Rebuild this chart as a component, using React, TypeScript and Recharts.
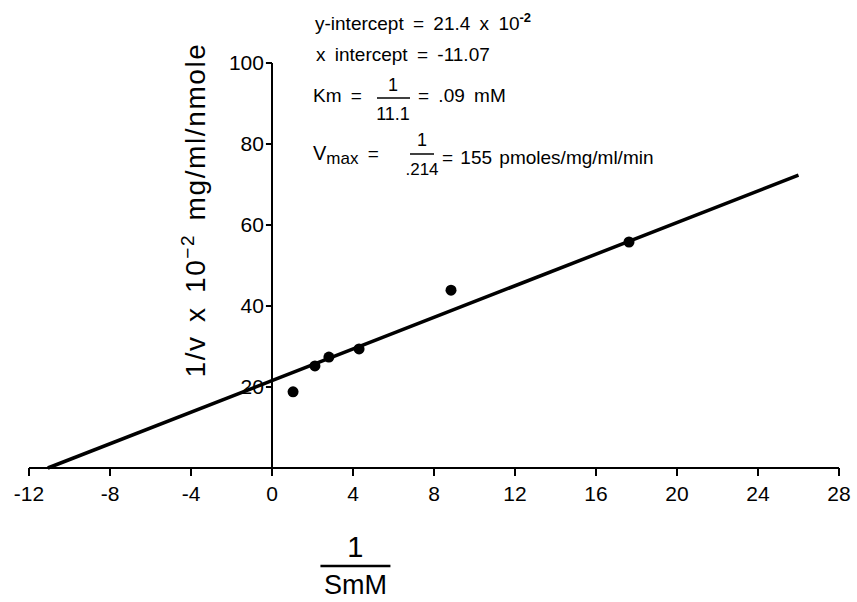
import { ComposedChart, Scatter, XAxis, YAxis, ReferenceLine } from "recharts"

// 1/[S] (mM^-1) and 1/v (x10^-2 mg/ml/nmole)
const invS = [1.04, 2.12, 2.81, 4.3, 8.84, 17.63]
const invV = [18.8, 25.2, 27.4, 29.4, 43.9, 55.8]

// fitted Lineweaver-Burk line
const fitX = [-11.07, 26]
const fitY = [0, 72.3]

const xTicks = [-12, -8, -4, 0, 4, 8, 12, 16, 20, 24, 28]
const yTicks = [20, 40, 60, 80, 100]

const points = invS.map((x, i) => ({ x, y: invV[i] }))
const FONT = "'Liberation Sans', Arial, Helvetica, sans-serif"

const Dot = (p: any) => <circle cx={p.cx} cy={p.cy} r={5.5} fill="#000" />

function YLabel({ viewBox }: any) {
  const cx = viewBox.x - 67
  const cy = viewBox.y + 147
  return (
    <text
      x={cx}
      y={cy}
      transform={`rotate(-90, ${cx}, ${cy})`}
      textAnchor="middle"
      fontFamily={FONT}
      fontSize={28}
      letterSpacing={1.6}
      wordSpacing={4}
      fill="#000"
    >
      <tspan>1/v x 10</tspan>
      <tspan fontSize={19} dy={-11}>−2</tspan>
      <tspan dy={11}>{"  mg/ml/nmole"}</tspan>
    </text>
  )
}

function XLabel({ viewBox }: any) {
  const cx = viewBox.x + viewBox.width * 0.403
  const top = viewBox.y
  return (
    <g fontFamily={FONT} fill="#000">
      <text x={cx} y={top + 89} textAnchor="middle" fontSize={29}>1</text>
      <line x1={cx - 35} x2={cx + 35} y1={top + 98} y2={top + 98} stroke="#000" strokeWidth={2.5} />
      <text x={cx} y={top + 126} textAnchor="middle" fontSize={27}>SmM</text>
    </g>
  )
}

function Notes() {
  return (
    <g fontFamily={FONT} fill="#000" fontSize={19} wordSpacing={4}>
      <text x={315} y={30}>
        y-intercept = 21.4 x 10<tspan fontSize={13} dy={-8} fontWeight="bold">-2</tspan>
      </text>
      <text x={316} y={61}>x intercept = -11.07</text>
      <text x={313} y={102}>Km =</text>
      <text x={393} y={91} textAnchor="middle" fontSize={18}>1</text>
      <line x1={377} x2={410} y1={98} y2={98} stroke="#000" strokeWidth={1.5} />
      <text x={393} y={120} textAnchor="middle" fontSize={18} wordSpacing={0}>11.1</text>
      <text x={418} y={102}>= .09 mM</text>
      <text x={313} y={160} fontSize={20}>
        V<tspan fontSize={17} dy={4}>max</tspan>
        <tspan fontSize={19} dy={-4}> =</tspan>
      </text>
      <text x={422} y={146} textAnchor="middle" fontSize={18}>1</text>
      <line x1={410} x2={434} y1={154} y2={154} stroke="#000" strokeWidth={1.5} />
      <text x={422} y={175} textAnchor="middle" fontSize={17}>.214</text>
      <text x={442} y={164} wordSpacing={2}>= 155 pmoles/mg/ml/min</text>
    </g>
  )
}

export default function App() {
  return (
    <div style={{ position: "absolute", left: 0, top: 0, background: "#fff" }}>
      <ComposedChart
        width={857}
        height={602}
        data={points}
        margin={{ top: 63, right: 18, left: 29, bottom: 104 }}
      >
        <XAxis
          dataKey="x"
          type="number"
          domain={[-12, 28]}
          ticks={xTicks}
          allowDataOverflow
          height={30}
          axisLine={{ stroke: "#000", strokeWidth: 2 }}
          tickLine={{ stroke: "#000", strokeWidth: 2 }}
          tickSize={8}
          tickMargin={10}
          tick={{ fill: "#000", fontSize: 21, fontFamily: FONT }}
          label={<XLabel />}
        />
        <YAxis type="number" dataKey="y" domain={[0, 100]} hide width={0} />
        <ReferenceLine
          segment={[{ x: 0, y: 0 }, { x: 0, y: 100 }]}
          stroke="#000"
          strokeWidth={2}
          label={<YLabel />}
        />
        {yTicks.map((t) => (
          <ReferenceLine
            key={t}
            segment={[{ x: -0.3, y: t }, { x: 0, y: t }]}
            stroke="#000"
            strokeWidth={2}
            label={{ value: String(t), position: "left", offset: 2, fill: "#000", fontSize: 21, fontFamily: FONT }}
          />
        ))}
        <ReferenceLine
          segment={[{ x: fitX[0], y: fitY[0] }, { x: fitX[1], y: fitY[1] }]}
          stroke="#000"
          strokeWidth={3.5}
        />
        <Scatter data={points} dataKey="y" shape={Dot} isAnimationActive={false} />
        <Notes />
      </ComposedChart>
    </div>
  )
}
